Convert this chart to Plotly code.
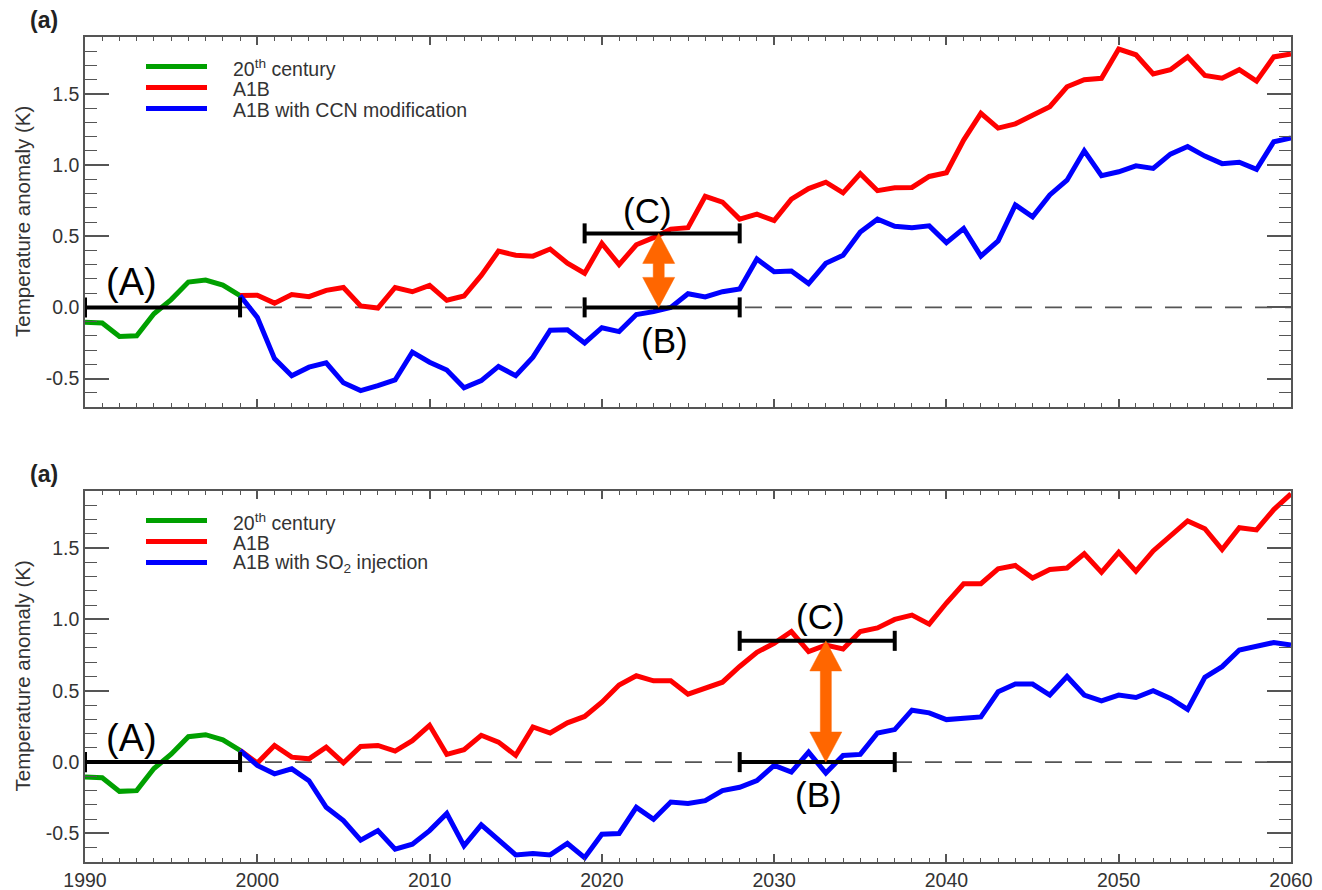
import plotly.graph_objects as go

# ---------------- data ----------------
hist_years = list(range(1990, 2000))
hist_temp = [-0.105, -0.11, -0.205, -0.20, -0.045, 0.055, 0.178, 0.192, 0.156, 0.083]

proj_years = list(range(1999, 2061))

a1b_top = [0.083, 0.085, 0.03, 0.09, 0.075, 0.12, 0.14, 0.01, -0.005, 0.14,
           0.11, 0.155, 0.05, 0.08, 0.225, 0.395, 0.366, 0.36, 0.41, 0.31,
           0.24, 0.45, 0.30, 0.44, 0.49, 0.55, 0.56, 0.78, 0.74, 0.62,
           0.655, 0.61, 0.76, 0.835, 0.88, 0.805, 0.94, 0.82, 0.84, 0.843,
           0.92, 0.946, 1.176, 1.364, 1.26, 1.29, 1.35, 1.41, 1.55, 1.60,
           1.61, 1.815, 1.775, 1.64, 1.67, 1.76, 1.63, 1.61, 1.67, 1.59,
           1.76, 1.78]

ccn_top = [0.083, -0.07, -0.36, -0.48, -0.42, -0.39, -0.53, -0.585, -0.55, -0.51,
           -0.315, -0.385, -0.44, -0.565, -0.515, -0.415, -0.48, -0.35, -0.16, -0.157,
           -0.25, -0.143, -0.17, -0.05, -0.03, 0.0, 0.096, 0.073, 0.11, 0.13,
           0.34, 0.25, 0.256, 0.167, 0.31, 0.366, 0.53, 0.62, 0.57, 0.56,
           0.573, 0.455, 0.554, 0.36, 0.467, 0.72, 0.636, 0.79, 0.894, 1.10,
           0.925, 0.953, 0.995, 0.977, 1.077, 1.13, 1.063, 1.01, 1.02, 0.97,
           1.164, 1.19]

a1b_bot = [0.083, -0.007, 0.117, 0.035, 0.023, 0.105, -0.005, 0.11, 0.117, 0.077,
           0.15, 0.258, 0.054, 0.087, 0.188, 0.14, 0.047, 0.246, 0.204, 0.275,
           0.32, 0.42, 0.54, 0.605, 0.57, 0.57, 0.476, 0.52, 0.56, 0.67,
           0.77, 0.833, 0.915, 0.775, 0.82, 0.793, 0.915, 0.94, 1.0, 1.03,
           0.967, 1.115, 1.25, 1.25, 1.354, 1.378, 1.29, 1.35, 1.36, 1.46,
           1.33, 1.47, 1.338, 1.48, 1.59, 1.69, 1.636, 1.49, 1.643, 1.627,
           1.77, 1.88]

so2_bot = [0.083, -0.023, -0.082, -0.047, -0.13, -0.317, -0.41, -0.547, -0.48, -0.61,
           -0.575, -0.48, -0.36, -0.587, -0.44, -0.54, -0.65, -0.64, -0.65, -0.57,
           -0.67, -0.505, -0.5, -0.317, -0.40, -0.28, -0.29, -0.27, -0.2, -0.176,
           -0.13, -0.023, -0.07, 0.07, -0.077, 0.047, 0.054, 0.204, 0.228, 0.364,
           0.345, 0.298, 0.305, 0.317, 0.493, 0.547, 0.547, 0.47, 0.6, 0.47,
           0.43, 0.47, 0.453, 0.5, 0.446, 0.369, 0.594, 0.669, 0.786, 0.81,
           0.838, 0.82]

legend_top = ["20<sup>th</sup> century", "A1B", "A1B with CCN modification"]
legend_bot = ["20<sup>th</sup> century", "A1B", "A1B with SO<sub>2</sub> injection"]

x_tick_vals = [1990, 2000, 2010, 2020, 2030, 2040, 2050, 2060]
x_tick_text = ["1990", "2000", "2010", "2020", "2030", "2040", "2050", "2060"]
y_tick_vals = [-0.5, 0.0, 0.5, 1.0, 1.5]
y_tick_text = ["-0.5", "0.0", "0.5", "1.0", "1.5"]

# brackets: (start, end, level) ; arrows: (x, low, high)
top_A = (1990, 1999, 0.0)
top_B = (2019, 2028, 0.0)
top_C = (2019, 2028, 0.52)
top_arrow = (2023.3, 0.0, 0.52)
bot_A = (1990, 1999, 0.0)
bot_B = (2028, 2037, 0.0)
bot_C = (2028, 2037, 0.85)
bot_arrow = (2033.0, 0.0, 0.85)

# ---------------- layout constants ----------------
W, H = 1322, 890
X_PX = (85, 1291)
TOP_PX = (37, 407)
BOT_PX = (491, 862)
X_RANGE = [1990, 2060]
Y_RANGE = [-0.7, 1.9]
PX_PER_YR = (X_PX[1] - X_PX[0]) / (X_RANGE[1] - X_RANGE[0])
PX_PER_K = (TOP_PX[1] - TOP_PX[0]) / (Y_RANGE[1] - Y_RANGE[0])

GREEN, RED, BLUE, ORANGE = "#00a000", "#ff0000", "#0000ff", "#ff6600"
AXC = "#555555"
TXT = "#333333"
FONT = "Liberation Sans, Arial, sans-serif"


def px_x(px):
    return px / W


def px_y(py):
    return 1 - py / H


fig = go.Figure()

for (xa, ya, a1b, mod, names) in [("x", "y", a1b_top, ccn_top, legend_top),
                                  ("x2", "y2", a1b_bot, so2_bot, legend_bot)]:
    fig.add_trace(go.Scatter(x=hist_years, y=hist_temp, mode="lines", name=names[0],
                             line=dict(color=GREEN, width=5), xaxis=xa, yaxis=ya,
                             showlegend=False))
    fig.add_trace(go.Scatter(x=proj_years, y=a1b, mode="lines", name=names[1],
                             line=dict(color=RED, width=5), xaxis=xa, yaxis=ya,
                             showlegend=False))
    fig.add_trace(go.Scatter(x=proj_years, y=mod, mode="lines", name=names[2],
                             line=dict(color=BLUE, width=5), xaxis=xa, yaxis=ya,
                             showlegend=False))

shapes = []
annotations = []

cap_h = 10 / PX_PER_K
head_hw = 16 / PX_PER_YR
shaft_hw = 5.5 / PX_PER_YR
head_h = 30 / PX_PER_K


def bracket(b, xr, yr):
    x0, x1, lvl = b
    out = [dict(type="line", xref=xr, yref=yr, x0=x0, x1=x1, y0=lvl, y1=lvl,
                line=dict(color="black", width=4))]
    for xx in (x0, x1):
        out.append(dict(type="line", xref=xr, yref=yr, x0=xx, x1=xx,
                        y0=lvl - cap_h, y1=lvl + cap_h, line=dict(color="black", width=4)))
    return out


def arrow(a, xr, yr):
    xc, lo, hi = a
    pts = [(xc, hi), (xc + head_hw, hi - head_h), (xc + shaft_hw, hi - head_h),
           (xc + shaft_hw, lo + head_h), (xc + head_hw, lo + head_h), (xc, lo),
           (xc - head_hw, lo + head_h), (xc - shaft_hw, lo + head_h),
           (xc - shaft_hw, hi - head_h), (xc - head_hw, hi - head_h)]
    path = "M " + " L ".join(f"{p[0]},{p[1]}" for p in pts) + " Z"
    return dict(type="path", xref=xr, yref=yr, path=path, fillcolor=ORANGE,
                line=dict(color=ORANGE, width=0.5))


panels = [("x", "y", TOP_PX, legend_top, top_A, top_B, top_C, top_arrow,
           [(1992.67, 0.178, "(A)"), (2023.66, -0.235, "(B)"), (2022.65, 0.683, "(C)")]),
          ("x2", "y2", BOT_PX, legend_bot, bot_A, bot_B, bot_C, bot_arrow,
           [(1992.67, 0.172, "(A)"), (2032.6, -0.228, "(B)"), (2032.7, 1.02, "(C)")])]

for (xr, yr, pxr, names, bA, bB, bC, arr, labels) in panels:
    # dashed zero line
    shapes.append(dict(type="line", xref=xr, yref=yr, x0=X_RANGE[0], x1=X_RANGE[1],
                       y0=0, y1=0, layer="below",
                       line=dict(color=AXC, width=1.6, dash="17px,13px")))
    for b in (bA, bB, bC):
        shapes.extend(bracket(b, xr, yr))
    shapes.append(arrow(arr, xr, yr))
    for (lx, ly, lt) in labels:
        annotations.append(dict(x=lx, y=ly, xref=xr, yref=yr, text=lt, showarrow=False,
                                xanchor="center", yanchor="middle",
                                font=dict(family=FONT, size=38 if lt == "(A)" else 35,
                                          color="black")))
    # legend (manual)
    top = pxr[0]
    for i, (nm, col) in enumerate(zip(names, [GREEN, RED, BLUE])):
        ly = top + 29.5 + i * 21
        shapes.append(dict(type="line", xref="paper", yref="paper",
                           x0=px_x(146), x1=px_x(207), y0=px_y(ly), y1=px_y(ly),
                           line=dict(color=col, width=5)))
        annotations.append(dict(x=px_x(231), y=px_y(ly + 1), xref="paper", yref="paper",
                                text=nm, showarrow=False, xanchor="left", yanchor="middle",
                                font=dict(family=FONT, size=19.5, color=TXT)))
    # panel label
    annotations.append(dict(x=px_x(44), y=px_y(top - 17), xref="paper", yref="paper",
                            text="<b>(a)</b>", showarrow=False, xanchor="center",
                            yanchor="middle", font=dict(family=FONT, size=23, color="#222")))
    # y-axis title
    annotations.append(dict(x=px_x(22), y=px_y((pxr[0] + pxr[1]) / 2), xref="paper",
                            yref="paper", text="Temperature anomaly (K)", textangle=-90,
                            showarrow=False, xanchor="center", yanchor="middle",
                            font=dict(family=FONT, size=20.5, color=TXT)))


def xaxis(dom_px, show_labels, anchor):
    return dict(range=X_RANGE, domain=[px_x(X_PX[0]), px_x(X_PX[1])], anchor=anchor,
                showline=True, linecolor=AXC, linewidth=1.5, mirror="allticks",
                ticks="inside", ticklen=8, tickwidth=1.5, tickcolor=AXC,
                tickmode="array", tickvals=x_tick_vals, ticktext=x_tick_text,
                showticklabels=show_labels,
                minor=dict(dtick=1, tick0=1990, ticks="inside", ticklen=4.5,
                           tickwidth=1.2, tickcolor=AXC),
                showgrid=False, zeroline=False, automargin=False,
                tickfont=dict(family=FONT, size=19.5, color=TXT))


def yaxis(dom_px, anchor):
    return dict(range=Y_RANGE, domain=[px_y(dom_px[1]), px_y(dom_px[0])], anchor=anchor,
                showline=True, linecolor=AXC, linewidth=1.5, mirror="allticks",
                ticks="inside", ticklen=24, tickwidth=1.5, tickcolor=AXC,
                tickmode="array", tickvals=y_tick_vals, ticktext=y_tick_text,
                minor=dict(dtick=0.1, tick0=0, ticks="inside", ticklen=12,
                           tickwidth=1.2, tickcolor=AXC),
                showgrid=False, zeroline=False, automargin=False,
                tickfont=dict(family=FONT, size=19.5, color=TXT))


fig.update_layout(
    width=W, height=H, autosize=False,
    margin=dict(l=0, r=0, t=0, b=0, pad=0),
    paper_bgcolor="white", plot_bgcolor="white",
    template="none",
    showlegend=False,
    xaxis=xaxis(TOP_PX, False, "y"),
    yaxis=yaxis(TOP_PX, "x"),
    xaxis2=xaxis(BOT_PX, True, "y2"),
    yaxis2=yaxis(BOT_PX, "x2"),
    shapes=shapes,
    annotations=annotations,
)

fig.write_html("out.html")
